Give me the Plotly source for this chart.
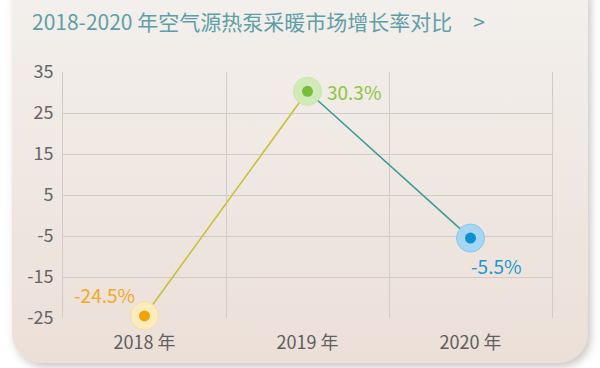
import base64
import plotly.graph_objects as go

# ---- data ----
years = ["2018 年", "2019 年", "2020 年"]
growth = [-24.5, 30.3, -5.5]
labels = ["-24.5%", "30.3%", "-5.5%"]
y_ticks = [-25, -15, -5, 5, 15, 25, 35]
y_tick_text = ["-25", "-15", "-5", "5", "15", "25", "35"]

# ---- styles ----
dot_colors = ["#f5a300", "#79be3a", "#0e8fd2"]
halo_colors = ["rgba(252,236,190,0.95)", "rgba(205,235,180,0.95)", "rgba(160,214,244,0.95)"]
halo_lines = ["#f6e0a0", "#c7e6ac", "#86c7ea"]
label_colors = ["#f2a81c", "#8cc443", "#1a97d4"]
seg_colors = ["#c9bf3a", "#3f9a96"]
FONT = "Noto Sans CJK SC"
W, H = 600, 368
L, R, T, B = 63, 48, 72, 50
pw, ph = W - L - R, H - T - B

xs = list(range(len(years)))

fig = go.Figure()

# line segments
for i in range(len(xs) - 1):
    fig.add_trace(go.Scatter(
        x=xs[i:i + 2], y=growth[i:i + 2], mode="lines",
        line=dict(color=seg_colors[i], width=1.6), cliponaxis=False,
        hoverinfo="skip", showlegend=False))

# halos
fig.add_trace(go.Scatter(
    x=xs, y=growth, mode="markers", cliponaxis=False,
    marker=dict(size=28, color=halo_colors, line=dict(color=halo_lines, width=1)),
    hoverinfo="skip", showlegend=False))
# dots
fig.add_trace(go.Scatter(
    x=xs, y=growth, mode="markers", cliponaxis=False,
    marker=dict(size=11, color=dot_colors),
    hoverinfo="skip", showlegend=False))

# value labels
label_pos = [dict(xanchor="right", xshift=-8, yshift=21),
             dict(xanchor="left", xshift=17, yshift=0),
             dict(xanchor="left", xshift=-2, yshift=-27)]
for i in xs:
    fig.add_annotation(x=xs[i], y=growth[i], text=labels[i], showarrow=False,
                       yanchor="middle", font=dict(family=FONT, size=19, color=label_colors[i]),
                       **label_pos[i])

# card background (decoration)
svg = f'''<svg xmlns="http://www.w3.org/2000/svg" width="{W}" height="{H}" viewBox="0 0 {W} {H}" preserveAspectRatio="none">
<defs>
<linearGradient id="g" x1="0" y1="0" x2="0" y2="1">
<stop offset="0" stop-color="#f3f1ee"/>
<stop offset="1" stop-color="#ecdfd8"/>
</linearGradient>
<filter id="s" x="-10%" y="-10%" width="120%" height="125%">
<feDropShadow dx="3" dy="4" stdDeviation="4" flood-color="#8a8580" flood-opacity="0.45"/>
</filter>
</defs>
<rect x="0" y="0" width="{W}" height="{H}" fill="#ffffff"/>
<rect x="12" y="-30" width="576" height="393" rx="30" ry="30" fill="url(#g)" filter="url(#s)"/>
</svg>'''
uri = "data:image/svg+xml;base64," + base64.b64encode(svg.encode()).decode()
fig.add_layout_image(dict(source=uri, xref="paper", yref="paper",
                          x=-L / pw, y=1 + T / ph, sizex=W / pw, sizey=H / ph,
                          xanchor="left", yanchor="top", sizing="stretch", layer="below"))

grid = "#d2cac5"
fig.update_layout(
    width=W, height=H,
    margin=dict(l=L, r=R, t=T, b=B),
    paper_bgcolor="#ffffff", plot_bgcolor="rgba(0,0,0,0)",
    font=dict(family=FONT),
    title=dict(text="2018-2020 年空气源热泵采暖市场增长率对比\u3000>",
               x=32 / W, xanchor="left", xref="container",
               y=1 - 23 / H, yanchor="middle", yref="container",
               font=dict(family=FONT, size=21, color="#5f9ea7")),
    xaxis=dict(range=[-0.5, len(years) - 0.5], tickvals=xs, ticktext=years,
               showgrid=False, zeroline=False, showline=False, ticks="",
               ticklabelstandoff=12,
               tickfont=dict(family=FONT, size=18, color="#5e5e5e"),
               minor=dict(tickvals=[0.5, 1.5], showgrid=True, gridcolor=grid, gridwidth=1, ticks="")),
    yaxis=dict(range=[y_ticks[0], y_ticks[-1]], tickvals=y_ticks, ticktext=y_tick_text,
               showgrid=True, gridcolor=grid, gridwidth=1, zeroline=False,
               showline=True, mirror=True, linecolor=grid, linewidth=1,
               ticks="", ticklabelstandoff=5,
               tickfont=dict(family=FONT, size=18, color="#666666")),
)

fig.write_html("out.html", config={"displayModeBar": False},
               post_script="document.body.style.margin='0';document.body.style.overflow='hidden';")
